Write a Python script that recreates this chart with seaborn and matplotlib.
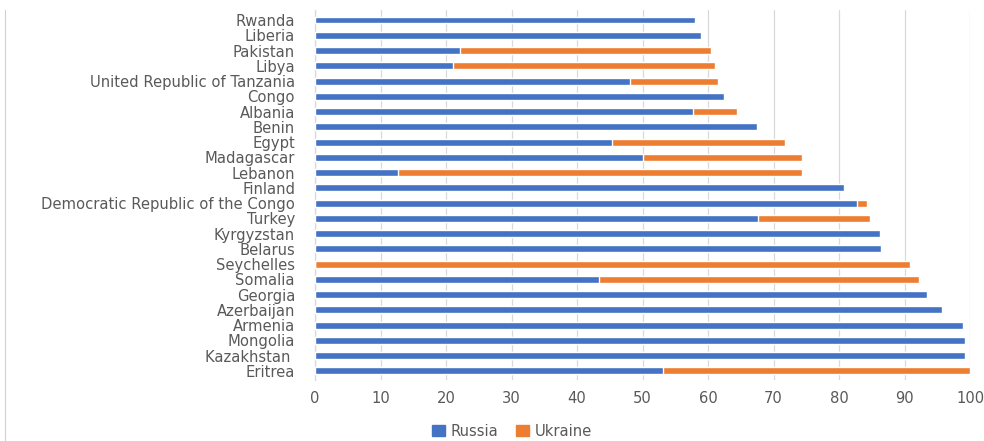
import matplotlib
matplotlib.use("Agg")
import matplotlib.pyplot as plt
from matplotlib.lines import Line2D
from matplotlib.patches import Patch
import seaborn as sns
import pandas as pd

countries = [
    "Rwanda", "Liberia", "Pakistan", "Libya", "United Republic of Tanzania",
    "Congo", "Albania", "Benin", "Egypt", "Madagascar", "Lebanon", "Finland",
    "Democratic Republic of the Congo", "Turkey", "Kyrgyzstan", "Belarus",
    "Seychelles", "Somalia", "Georgia", "Azerbaijan", "Armenia", "Mongolia",
    "Kazakhstan ", "Eritrea",
]
russia = [58.0, 59.0, 22.1, 21.0, 48.1, 62.4, 57.7, 67.5, 45.4, 50.0, 12.7, 80.7,
          82.7, 67.7, 86.2, 86.4, 0.0, 43.3, 93.4, 95.8, 99.0, 99.2, 99.2, 53.1]
ukraine = [0.0, 0.0, 38.4, 40.1, 13.5, 0.0, 6.7, 0.0, 26.4, 24.4, 61.7, 0.0,
           1.6, 17.1, 0.0, 0.0, 90.9, 48.9, 0.0, 0.0, 0.0, 0.0, 0.0, 46.9]
x_ticks = [0, 10, 20, 30, 40, 50, 60, 70, 80, 90, 100]

BLUE = "#4472C4"
ORANGE = "#ED7D31"
TEXT = "#595959"
GRID = "#D9D9D9"
FS = 10.6

df = pd.DataFrame({"country": countries, "Russia": russia, "Ukraine": ukraine})
df["total"] = df["Russia"] + df["Ukraine"]

sns.set_theme(style="white")
plt.rcParams["font.family"] = ["DejaVu Sans"]

fig = plt.figure(figsize=(9.84, 4.41), dpi=100)
W, H = 984, 441
ax = fig.add_axes([315 / W, 1 - 380 / H, (970 - 315) / W, (380 - 10) / H])

# stacked bars: full (Russia + Ukraine) in orange, Russia share on top in blue
sns.barplot(data=df, y="country", x="total", color=ORANGE, orient="h",
            width=0.45, saturation=1, ax=ax, zorder=3)
sns.barplot(data=df, y="country", x="Russia", color=BLUE, orient="h",
            width=0.45, saturation=1, ax=ax, zorder=3)

ax.set_xlim(0, 100)
ax.set_ylim(23.6, -0.66)
ax.set_xticks(x_ticks)
ax.set_xticklabels([str(t) for t in x_ticks])
ax.set_xlabel("")
ax.set_ylabel("")
ax.grid(axis="x", color=GRID, linewidth=0.9, zorder=0)
ax.grid(axis="y", visible=False)
for side in ["top", "right", "bottom"]:
    ax.spines[side].set_visible(False)
ax.spines["left"].set_color(GRID)
ax.spines["left"].set_linewidth(0.9)
ax.tick_params(axis="both", length=0, colors=TEXT, labelsize=FS)
ax.tick_params(axis="y", pad=14.4)
ax.tick_params(axis="x", pad=8)

fig.legend(handles=[Patch(color=BLUE, label="Russia"), Patch(color=ORANGE, label="Ukraine")],
           loc="center", bbox_to_anchor=(512 / W, 1 - 431 / H), ncol=2, frameon=False,
           fontsize=FS, labelcolor=TEXT, handlelength=0.85, handleheight=0.85,
           handletextpad=0.4, columnspacing=1.2, borderpad=0)

# thin frame line along the left edge
fig.add_artist(Line2D([5 / W, 5 / W], [0, 1 - 10 / H], transform=fig.transFigure,
                      color="#D0D0D0", linewidth=0.8))

fig.savefig("out.png", dpi=100)
